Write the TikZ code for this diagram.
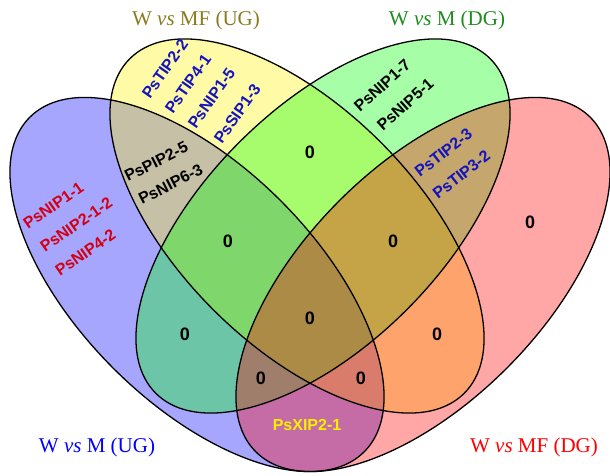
\documentclass[tikz,border=0pt]{standalone}
\usepackage{fontspec}
\setmainfont{Liberation Serif}
\newfontfamily\genefont{Liberation Sans}
\definecolor{ugolive}{RGB}{138,122,30}
\definecolor{dggreen}{RGB}{30,140,30}
\definecolor{geneblue}{RGB}{20,20,190}
\definecolor{genered}{RGB}{210,0,20}
\definecolor{geneyellow}{RGB}{250,240,0}
\tikzset{setfill/.style={fill=#1, fill opacity=0.35, draw=none}}
\tikzset{setline/.style={draw=black, line width=1.3pt}}
\tikzset{setshape/.style={x radius=236.5, y radius=118.4}}
\tikzset{gene/.style={font=\genefont\bfseries\fontsize{16}{16}\selectfont, inner sep=0, anchor=base west}}
\tikzset{count/.style={font=\genefont\bfseries\fontsize{18}{18}\selectfont, inner sep=0}}
\tikzset{title/.style={font=\fontsize{21}{21}\selectfont, inner sep=0}}

\begin{document}
\begin{tikzpicture}[x=1pt, y=1pt]
      \useasboundingbox (0,0) rectangle (610,476);

      % the four sets
      \path[setfill=blue, rotate around={-45:(197,191.5)}] (197,191.5) ellipse [setshape];
      \path[setfill=yellow, rotate around={-45:(297,250)}] (297,250) ellipse [setshape];
      \path[setfill=green, rotate around={45:(323,250)}] (323,250) ellipse [setshape];
      \path[setfill=red, rotate around={45:(423,191.5)}] (423,191.5) ellipse [setshape];

      \draw[setline, rotate around={-45:(197,191.5)}] (197,191.5) ellipse [setshape];
      \draw[setline, rotate around={-45:(297,250)}] (297,250) ellipse [setshape];
      \draw[setline, rotate around={45:(323,250)}] (323,250) ellipse [setshape];
      \draw[setline, rotate around={45:(423,191.5)}] (423,191.5) ellipse [setshape];

      % titles
      \node[title, text=ugolive] (tmfug) at (196,456) {W \textit{vs} MF (UG)};
      \node[title, text=dggreen] (tmdg) at (447,456) {W \textit{vs} M (DG)};
      \node[title, text=blue] (tmug) at (97,29) {W \textit{vs} M (UG)};
      \node[title, text=red] (tmfdg) at (534,29) {W \textit{vs} MF (DG)};

      % W vs M (UG) only
      \node[gene, text=genered, rotate=35] (g11) at (28,246) {PsNIP1-1};
      \node[gene, text=genered, rotate=35] (g12) at (45,223) {PsNIP2-1-2};
      \node[gene, text=genered, rotate=35] (g13) at (60,199) {PsNIP4-2};

      % W vs MF (UG) only
      \node[gene, text=geneblue, rotate=55] (g21) at (150,376) {PsTIP2-2};
      \node[gene, text=geneblue, rotate=55] (g22) at (173,361) {PsTIP4-1};
      \node[gene, text=geneblue, rotate=55] (g23) at (196,346) {PsNIP1-5};
      \node[gene, text=geneblue, rotate=55] (g24) at (222,331) {PsSIP1-3};

      % W vs M (DG) only
      \node[gene, rotate=42] (g31) at (360,363) {PsNIP1-7};
      \node[gene, rotate=42] (g32) at (383,344) {PsNIP5-1};

      % both UG sets
      \node[gene, rotate=27] (g41) at (128,294) {PsPIP2-5};
      \node[gene, rotate=27] (g42) at (142,271) {PsNIP6-3};

      % both DG sets
      \node[gene, text=geneblue, rotate=38] (g51) at (420,298) {PsTIP2-3};
      \node[gene, text=geneblue, rotate=38] (g52) at (438,276) {PsTIP3-2};

      % W vs M (UG) and W vs MF (DG)
      \node[gene, text=geneyellow, anchor=center] (g61) at (307,51) {PsXIP2-1};

      % empty regions
      \node[count] (n1) at (310,324) {0};
      \node[count] (n2) at (228,235) {0};
      \node[count] (n3) at (393,235) {0};
      \node[count] (n4) at (530,254) {0};
      \node[count] (n5) at (310,158) {0};
      \node[count] (n6) at (185,142) {0};
      \node[count] (n7) at (437,142) {0};
      \node[count] (n8) at (261,98) {0};
      \node[count] (n9) at (361,98) {0};
\end{tikzpicture}
\end{document}
